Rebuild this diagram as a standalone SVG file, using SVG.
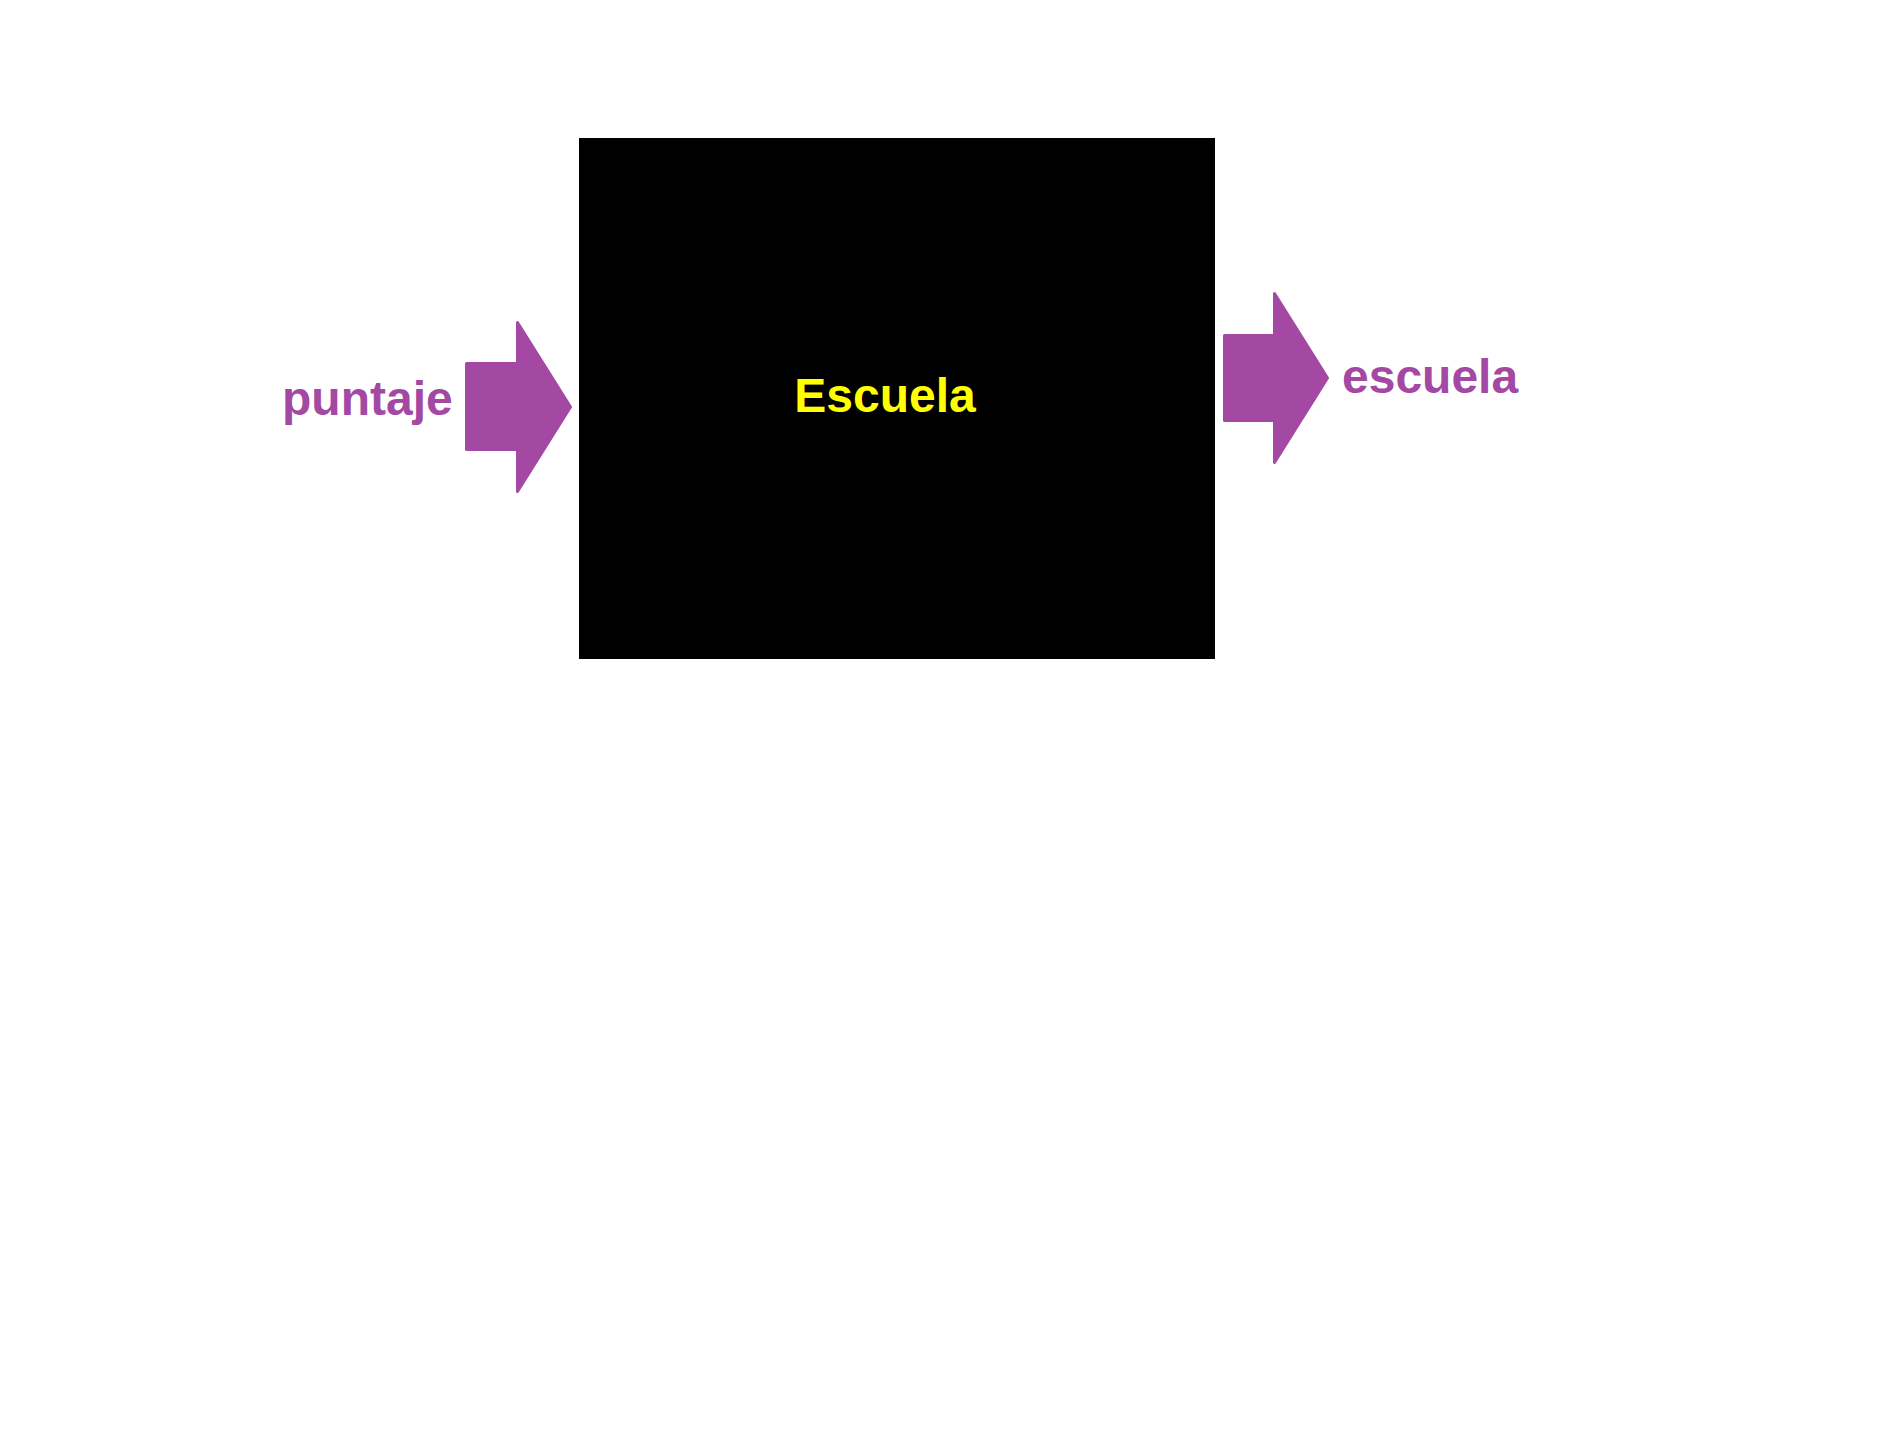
<svg xmlns="http://www.w3.org/2000/svg" width="1896" height="1431" viewBox="0 0 1896 1431">
<style>
.arrow{fill:#A349A4;stroke:#A349A4;stroke-width:3;stroke-linejoin:round}
.lbl{font-family:"Liberation Sans",Arial,sans-serif;font-weight:bold;font-size:48px}
.purple{fill:#A349A4}
</style>
<rect width="1896" height="1431" fill="#ffffff"/>
<g id="escuela-box">
<rect x="579" y="138" width="636" height="521" fill="#000000"/>
<text class="lbl" x="885" y="412" text-anchor="middle" fill="#FFFF00">Escuela</text>
</g>
<g id="connectors">
<polygon class="arrow" points="466.5,363.5 517.5,363.5 517.5,322.5 570.5,407 517.5,491.5 517.5,449.5 466.5,449.5"/>
<polygon class="arrow" points="1224.5,335.5 1274.5,335.5 1274.5,293.5 1327.5,378 1274.5,462.5 1274.5,420.5 1224.5,420.5"/>
</g>
<g id="input-label">
<text class="lbl purple" x="282" y="415">puntaje</text>
</g>
<g id="output-label">
<text class="lbl purple" x="1342" y="393">escuela</text>
</g>
</svg>
